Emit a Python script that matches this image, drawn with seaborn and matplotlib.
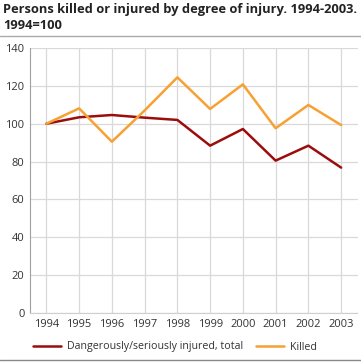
import pandas as pd
import matplotlib
matplotlib.use('Agg')
import matplotlib.pyplot as plt
import seaborn as sns

years = [1994, 1995, 1996, 1997, 1998, 1999, 2000, 2001, 2002, 2003]
injured = [100, 103.4, 104.6, 103.2, 102.0, 88.4, 97.2, 80.5, 88.4, 76.8]
killed = [100, 108.1, 90.5, 107.0, 124.5, 107.8, 120.8, 97.6, 109.9, 99.3]
series_names = ['Dangerously/seriously injured, total', 'Killed']
colors = ['#9b0d0d', '#f7a033']

df = pd.DataFrame({'year': years * 2,
                   'value': injured + killed,
                   'series': [series_names[0]] * len(years) + [series_names[1]] * len(years)})

sns.set_style('white')
plt.rcParams['font.family'] = ['Open Sans', 'DejaVu Sans']

fig = plt.figure(figsize=(3.61, 3.62), dpi=100)
ax = fig.add_axes([30 / 361, 1 - 313 / 362, 327.5 / 361, 265 / 362])

sns.lineplot(data=df, x='year', y='value', hue='series', palette=colors,
             linewidth=1.8, ax=ax, legend=False)

ax.set_xlim(1993.5, 2003.5)
ax.set_ylim(0, 140)
ax.set_xticks(years)
ax.set_xticklabels([str(y) for y in years])
ax.set_yticks(range(0, 141, 20))
ax.grid(True, color='#d9d9d9', linewidth=0.9)
ax.set_axisbelow(True)
for s in ['top', 'right']:
    ax.spines[s].set_visible(False)
ax.spines['bottom'].set_color('#cfcfcf')
ax.spines['left'].set_color('#a0a0a0')
ax.tick_params(axis='both', length=0, labelsize=8, colors='#333333', pad=4)
ax.set_xlabel('')
ax.set_ylabel('')

fig.text(3 / 361, 1 - 3 / 362, 'Persons killed or injured by degree of injury. 1994-2003.',
         ha='left', va='top', fontsize=9.3, fontweight='bold', color='#222222')
fig.text(3 / 361, 1 - 19 / 362, '1994=100',
         ha='left', va='top', fontsize=9.3, fontweight='bold', color='#222222')
fig.add_artist(plt.Line2D([0, 1], [1 - 35.5 / 362, 1 - 35.5 / 362], color='#aaaaaa', linewidth=1))
fig.add_artist(plt.Line2D([0, 1], [1 - 360 / 362, 1 - 360 / 362], color='#888888', linewidth=1))

handles = [plt.Line2D([], [], color=c, linewidth=1.8) for c in colors]
fig.legend(handles, series_names, loc='center', bbox_to_anchor=(0.485, 1 - 347 / 362),
           ncol=2, frameon=False, fontsize=7.7, handlelength=2.6, columnspacing=1.2,
           handletextpad=0.6, labelcolor='#333333')

fig.savefig('out.png', dpi=100)
